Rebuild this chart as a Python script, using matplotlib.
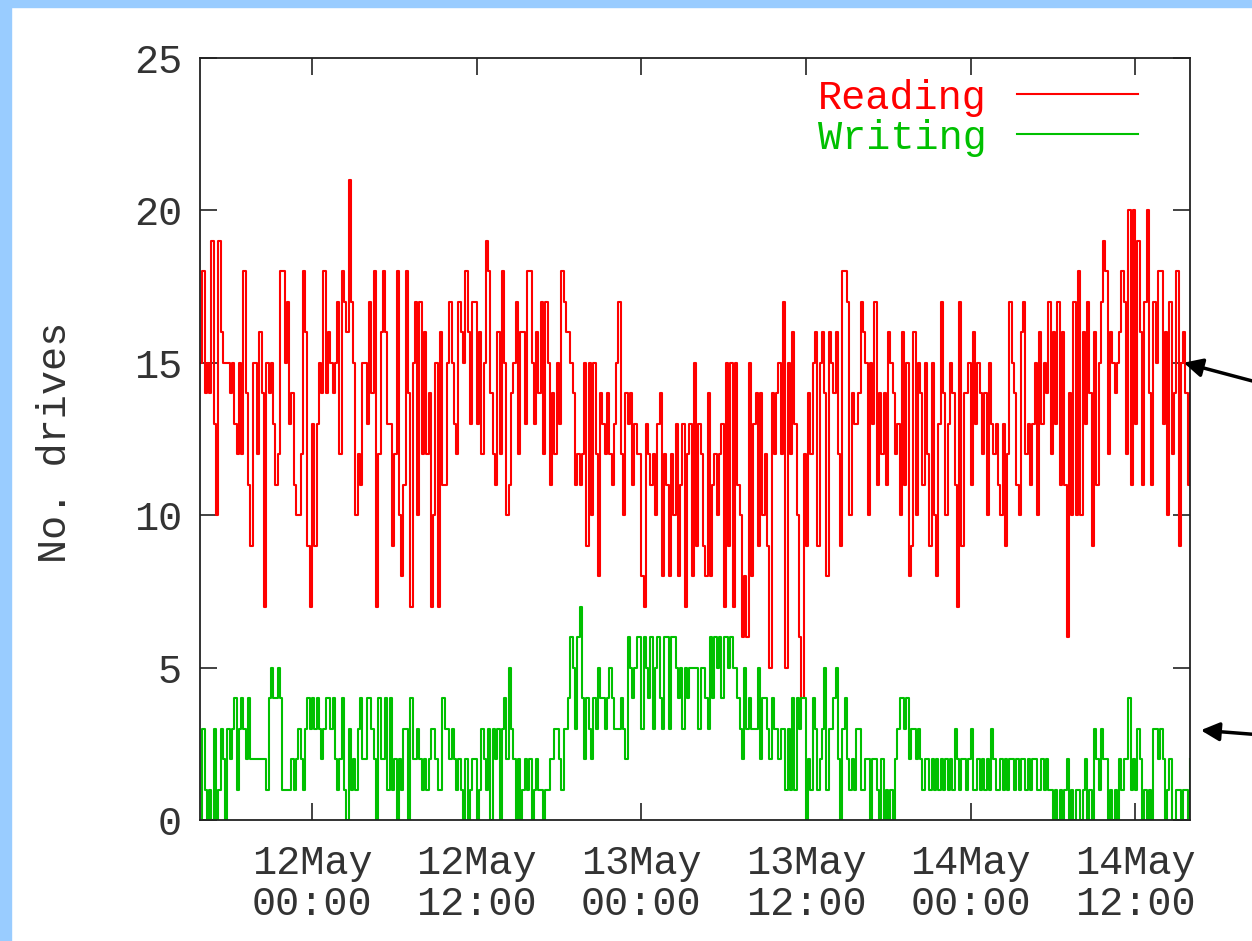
import numpy as np
import matplotlib
matplotlib.use("Agg")
import matplotlib.pyplot as plt
from matplotlib.patches import Rectangle

# number of drives busy, one sample every 10 minutes from 11May 15:50
reading = [
    15, 18, 14, 15, 14, 19, 13, 10, 19, 16, 15, 15,
    15, 14, 15, 13, 12, 15, 12, 18, 14, 11, 9, 15,
    15, 12, 16, 14, 7, 15, 14, 15, 13, 11, 12, 18,
    18, 15, 17, 13, 14, 11, 10, 10, 12, 18, 16, 9,
    7, 13, 9, 13, 15, 14, 18, 14, 16, 15, 14, 15,
    17, 12, 18, 17, 16, 21, 17, 15, 10, 12, 11, 15,
    15, 13, 17, 14, 18, 7, 12, 16, 18, 16, 13, 13,
    9, 12, 18, 10, 8, 11, 18, 14, 7, 15, 17, 10,
    17, 12, 16, 12, 14, 7, 10, 15, 7, 16, 11, 11,
    15, 17, 15, 13, 12, 17, 16, 15, 18, 16, 13, 17,
    17, 13, 16, 12, 15, 19, 18, 14, 12, 11, 16, 12,
    18, 15, 10, 11, 14, 15, 17, 12, 16, 16, 13, 18,
    18, 15, 13, 16, 14, 17, 12, 17, 15, 11, 14, 12,
    15, 13, 18, 17, 16, 16, 15, 14, 11, 12, 11, 12,
    15, 9, 15, 10, 15, 12, 8, 14, 13, 12, 14, 12,
    11, 13, 15, 17, 12, 10, 14, 13, 14, 11, 13, 12,
    12, 8, 7, 13, 12, 11, 12, 10, 13, 14, 8, 12,
    11, 8, 12, 10, 13, 8, 11, 13, 7, 12, 13, 8,
    15, 9, 13, 12, 9, 8, 14, 8, 11, 12, 10, 12,
    13, 7, 15, 9, 15, 7, 15, 11, 10, 6, 8, 6,
    15, 8, 13, 14, 9, 14, 10, 12, 9, 5, 14, 12,
    14, 15, 12, 17, 5, 15, 12, 16, 13, 10, 6, 4,
    12, 9, 14, 12, 15, 16, 9, 15, 16, 14, 8, 16,
    15, 14, 16, 12, 9, 18, 18, 17, 10, 14, 13, 13,
    14, 17, 16, 15, 10, 15, 13, 17, 11, 14, 12, 14,
    11, 16, 15, 14, 12, 13, 10, 16, 11, 15, 8, 9,
    16, 10, 15, 14, 11, 15, 12, 9, 15, 10, 8, 13,
    17, 14, 10, 13, 15, 14, 11, 7, 17, 9, 14, 14,
    15, 11, 16, 13, 15, 14, 12, 14, 10, 15, 13, 12,
    13, 11, 10, 13, 9, 12, 17, 15, 14, 11, 10, 16,
    17, 12, 13, 11, 13, 15, 10, 16, 13, 15, 14, 17,
    12, 16, 13, 17, 11, 16, 11, 6, 14, 10, 17, 10,
    18, 10, 16, 13, 17, 14, 9, 16, 11, 15, 17, 19,
    18, 12, 16, 15, 14, 15, 16, 18, 17, 12, 20, 11,
    20, 13, 19, 16, 11, 17, 20, 14, 11, 17, 15, 18,
    18, 13, 16, 10, 17, 12, 14, 18, 9, 15, 16, 14,
    11, 14,
]

writing = [
    0, 3, 1, 0, 1, 0, 3, 0, 1, 3, 2, 0,
    3, 2, 3, 4, 1, 3, 4, 3, 2, 4, 2, 2,
    2, 2, 2, 2, 2, 1, 4, 5, 4, 4, 5, 4,
    1, 1, 1, 1, 2, 1, 2, 3, 2, 1, 3, 4,
    3, 4, 3, 4, 3, 2, 3, 4, 4, 3, 4, 2,
    1, 2, 4, 1, 0, 3, 1, 2, 1, 3, 4, 2,
    2, 4, 4, 3, 2, 0, 4, 2, 2, 4, 1, 4,
    1, 2, 0, 2, 1, 3, 3, 0, 4, 2, 2, 3,
    2, 1, 2, 1, 2, 3, 3, 2, 1, 1, 4, 3,
    3, 2, 3, 2, 1, 2, 1, 0, 2, 0, 1, 2,
    2, 0, 1, 3, 2, 1, 3, 0, 3, 2, 3, 0,
    3, 4, 2, 5, 3, 2, 0, 2, 0, 1, 2, 1,
    2, 0, 1, 2, 1, 1, 0, 1, 1, 2, 2, 3,
    3, 2, 1, 3, 3, 4, 6, 5, 3, 6, 7, 4,
    2, 4, 3, 2, 4, 3, 5, 4, 4, 3, 4, 5,
    4, 3, 3, 3, 4, 3, 2, 6, 5, 4, 5, 6,
    6, 3, 6, 5, 4, 6, 3, 5, 6, 4, 3, 6,
    6, 3, 6, 6, 5, 4, 5, 3, 5, 4, 5, 5,
    5, 5, 3, 5, 5, 4, 3, 6, 4, 6, 5, 6,
    4, 6, 6, 5, 6, 5, 5, 4, 3, 2, 5, 3,
    4, 3, 3, 3, 5, 2, 4, 4, 3, 2, 4, 3,
    3, 2, 3, 3, 1, 3, 1, 4, 1, 4, 3, 4,
    4, 0, 2, 1, 4, 3, 1, 2, 3, 5, 1, 3,
    3, 4, 5, 2, 0, 3, 4, 2, 1, 2, 1, 3,
    3, 1, 1, 2, 2, 0, 2, 2, 1, 0, 2, 0,
    1, 0, 1, 0, 2, 3, 4, 4, 3, 4, 2, 3,
    3, 2, 3, 2, 1, 2, 2, 1, 2, 1, 2, 1,
    2, 1, 2, 1, 2, 1, 3, 2, 1, 2, 2, 1,
    2, 3, 1, 1, 2, 1, 2, 1, 2, 1, 3, 2,
    1, 1, 2, 1, 2, 1, 2, 2, 1, 2, 1, 2,
    2, 1, 2, 1, 2, 2, 1, 1, 2, 1, 2, 1,
    1, 0, 1, 0, 1, 0, 1, 2, 0, 1, 0, 1,
    1, 0, 1, 2, 0, 1, 0, 3, 2, 1, 3, 2,
    2, 0, 1, 0, 1, 0, 2, 1, 2, 2, 4, 1,
    2, 1, 3, 2, 0, 1, 0, 1, 0, 3, 3, 2,
    3, 2, 0, 1, 2, 0, 0, 1, 1, 0, 1, 1,
    0, 2,
]

# x axis in hours from 12May 00:00
x_ticks = [0, 12, 24, 36, 48, 60]
x_labels = ["12May\n00:00", "12May\n12:00", "13May\n00:00",
            "13May\n12:00", "14May\n00:00", "14May\n12:00"]
y_ticks = [0, 5, 10, 15, 20, 25]

t0 = -(8 + 10 / 60.0)       # 11May 15:50
dt = 10 / 60.0
t = t0 + dt * np.arange(len(reading))

plt.rcParams['font.family'] = ['Liberation Mono', 'DejaVu Sans Mono']
W, H = 1252, 941
fig = plt.figure(figsize=(W / 100, H / 100), dpi=100)

# light blue page border (left and top)
fig.patches.append(Rectangle((0, 0), 11 / W, 1, transform=fig.transFigure,
                             color='#99ccff', zorder=0))
fig.patches.append(Rectangle((0, 1 - 7 / H), 1, 7 / H, transform=fig.transFigure,
                             color='#99ccff', zorder=0))

ax = fig.add_axes([200 / W, 1 - 820 / H, 990 / W, 762 / H])
ax.step(t, reading, where='post', color='#ff0000', lw=1.5, label='Reading')
ax.step(t, writing, where='post', color='#00c000', lw=1.5, label='Writing')

ax.set_xlim(t0, 64)
ax.set_ylim(0, 25)
ax.set_xticks(x_ticks)
ax.set_xticklabels(x_labels, linespacing=1.1)
ax.set_yticks(y_ticks)
ax.tick_params(direction='in', length=12, width=1.2, color='#222222',
               top=True, right=True, labelsize=29, labelcolor='#333333')
ax.tick_params(axis='x', pad=17)
ax.tick_params(axis='y', pad=13)
for s in ax.spines.values():
    s.set_linewidth(1.3)
    s.set_color('#222222')

fig.text(55 / W, 1 - 442 / H, "No. drives", rotation=90, ha='center',
         va='center', fontsize=29, color='#333333')

leg = ax.legend(loc='upper right', bbox_to_anchor=((1138 - 200) / 990, 0.973),
                frameon=False, markerfirst=False, labelcolor='linecolor',
                handlelength=3, handletextpad=0.75, labelspacing=0.05,
                borderpad=0, borderaxespad=0, fontsize=29)

# arrows pointing in from the right margin
ax.annotate('', xy=(1181, H - 362), xycoords='figure pixels',
            xytext=(1275, H - 387), textcoords='figure pixels',
            arrowprops=dict(arrowstyle='-|>', color='black', lw=2.5,
                            mutation_scale=28),
            annotation_clip=False)
ax.annotate('', xy=(1198, H - 730), xycoords='figure pixels',
            xytext=(1275, H - 736), textcoords='figure pixels',
            arrowprops=dict(arrowstyle='-|>', color='black', lw=2.5,
                            mutation_scale=28),
            annotation_clip=False)

fig.savefig("out.png", dpi=100)
